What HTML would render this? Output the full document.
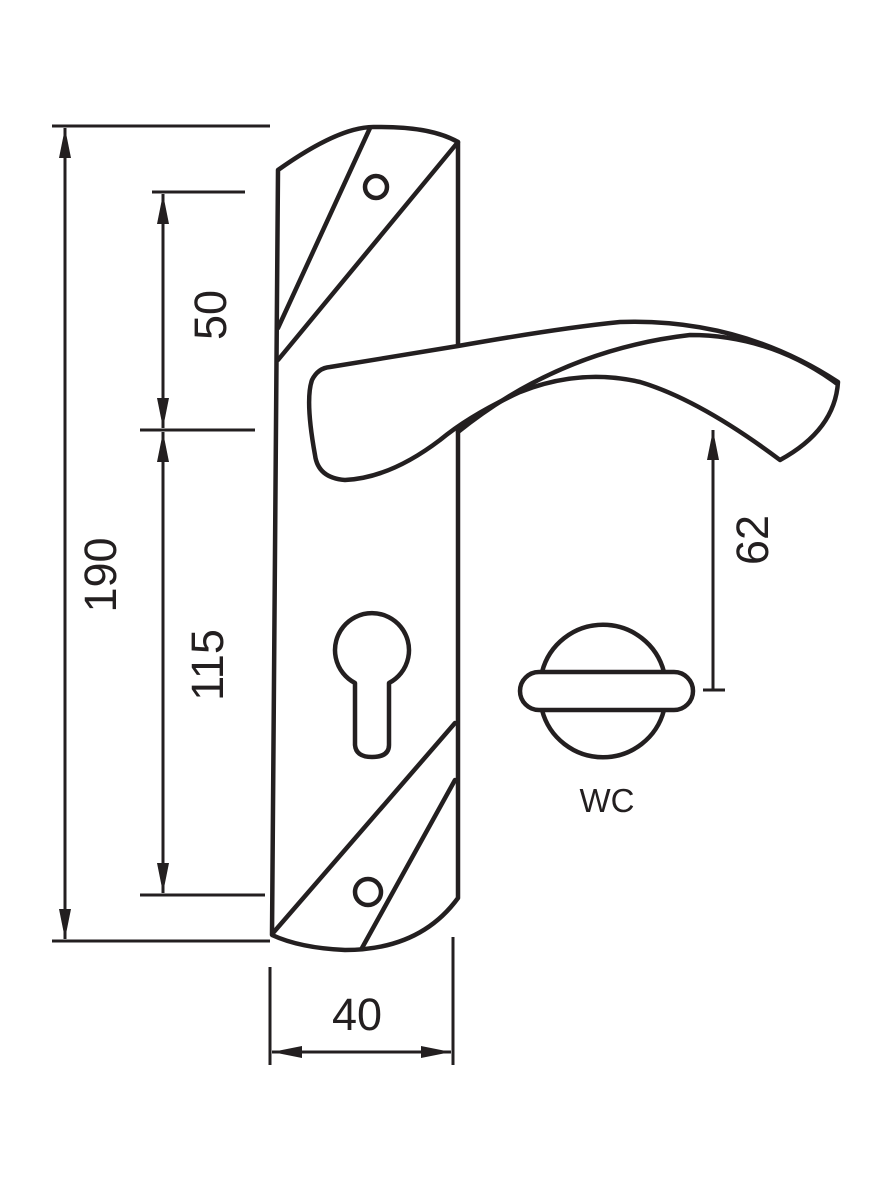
<!DOCTYPE html>
<html><head><style>html,body{margin:0;padding:0;background:#fff}svg{display:block}</style></head>
<body>
<svg width="886" height="1200" viewBox="0 0 886 1200" xmlns="http://www.w3.org/2000/svg">
<defs>
<marker id="a" viewBox="0 0 10 10" refX="10" refY="5" markerWidth="30" markerHeight="12" markerUnits="userSpaceOnUse" orient="auto-start-reverse" preserveAspectRatio="none"><path d="M0,0 L10,5 L0,10 Z" fill="#231f20"/></marker>
</defs>
<g fill="none" stroke="#231f20" stroke-width="4.5" stroke-linejoin="round" stroke-linecap="round">
<path d="M278,170 Q340,126 375,127 Q430,126 458,142 L458,898 Q420,950 345,950 Q300,948 272,935 Z"/>
<line x1="370" y1="128" x2="278" y2="328"/>
<line x1="458" y1="142" x2="278" y2="360"/>
<circle cx="376" cy="187" r="11"/>
<line x1="455" y1="723" x2="273" y2="933"/>
<line x1="455" y1="780" x2="362" y2="948"/>
<circle cx="368" cy="892" r="13"/>
<path d="M355,683 A37,37 0 1 1 389,683 L389,745 Q389,757 372,757 Q356,757 355,745 Z" fill="#fff"/>
<path d="M330,367 L458,346 Q560,328 620,322 Q740,318 838,382 Q835,430 780,460 Q700,400 640,382 Q580,368 520,392 Q470,415 440,440 Q390,478 345,480 Q318,478 315,455 Q305,400 312,380 Q318,368 330,367 Z" fill="#fff"/>
<path d="M458,432 Q560,350 690,335 Q770,335 836,383"/>
<path d="M542,672 A63,63 0 0 1 664,672"/>
<path d="M542,710 A63,63 0 0 0 664,710"/>
<rect x="520" y="672" width="173" height="38" rx="19" fill="#fff"/>
</g>
<g stroke="#231f20" stroke-width="3" fill="none">
<line x1="52" y1="126" x2="270" y2="126"/>
<line x1="52" y1="941" x2="270" y2="941"/>
<line x1="65" y1="128" x2="65" y2="939" marker-start="url(#a)" marker-end="url(#a)"/>
<line x1="152" y1="192" x2="245" y2="192"/>
<line x1="140" y1="430" x2="255" y2="430"/>
<line x1="140" y1="895" x2="265" y2="895"/>
<line x1="163" y1="194" x2="163" y2="428" marker-start="url(#a)" marker-end="url(#a)"/>
<line x1="163" y1="432" x2="163" y2="893" marker-start="url(#a)" marker-end="url(#a)"/>
<line x1="270" y1="967" x2="270" y2="1065"/>
<line x1="453" y1="937" x2="453" y2="1065"/>
<line x1="272" y1="1052" x2="451" y2="1052" marker-start="url(#a)" marker-end="url(#a)"/>
<line x1="713" y1="690" x2="713" y2="430" marker-end="url(#a)"/>
<line x1="703" y1="690" x2="725" y2="690"/>
</g>
<g font-family="Liberation Sans, sans-serif" fill="#231f20" font-size="45" text-anchor="middle">
<text transform="translate(116,575) rotate(-90)">190</text>
<text transform="translate(226,315) rotate(-90)">50</text>
<text transform="translate(223,665) rotate(-90)">115</text>
<text x="357" y="1030">40</text>
<text transform="translate(768,540) rotate(-90)">62</text>
<text x="607" y="812" font-size="33">WC</text>
</g>
</svg>
</body></html>
